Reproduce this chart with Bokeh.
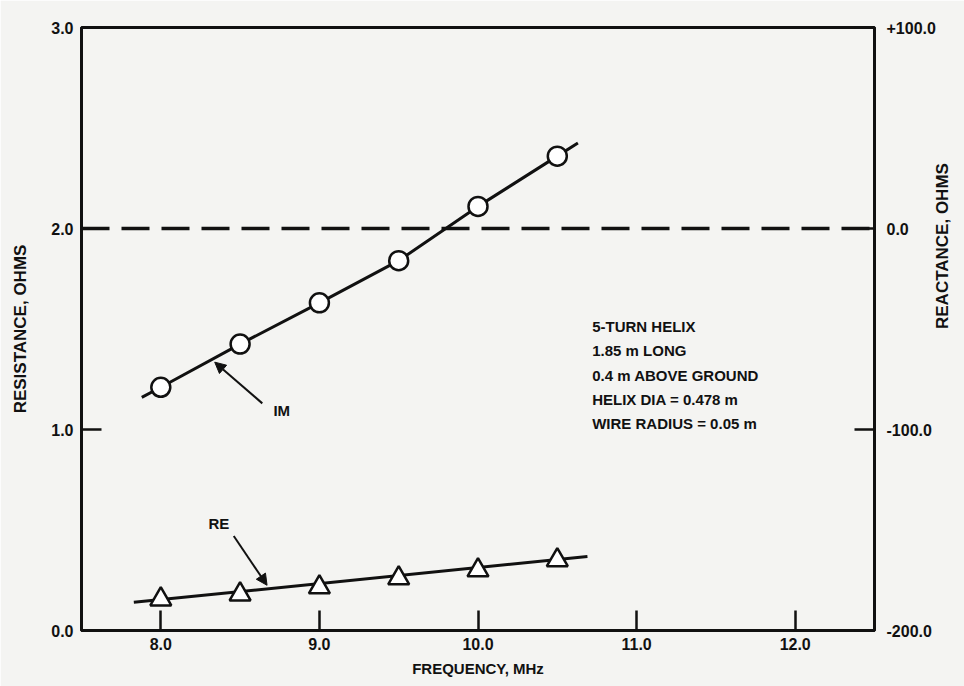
import math
from bokeh.plotting import figure
from bokeh.models import (Range1d, LinearAxis, FixedTicker, Span, Arrow,
                          NormalHead, Label)
from bokeh.embed import file_html
from bokeh.resources import INLINE

# ---------------- data ----------------
freq = [8.0, 8.5, 9.0, 9.5, 10.0, 10.5]                 # MHz
reactance_im = [-79.0, -57.5, -37.0, -16.0, 11.0, 36.0]  # ohms (right axis)
resistance_re = [0.155, 0.18, 0.215, 0.26, 0.30, 0.35]   # ohms (left axis)

# hand-drawn curves through the points (with their end extensions)
im_curve_freq = [7.88, 8.0, 8.5, 9.0, 9.5, 10.0, 10.5, 10.63]
im_curve_val = [-84.0, -79.0, -57.5, -37.0, -16.0, 11.0, 36.0, 42.5]
re_fit_freq = [7.83, 10.69]
re_fit_val = [0.14, 0.368]

zero_reactance = 0.0

x_ticks = [8, 9, 10, 11, 12]
x_tick_labels = ["8.0", "9.0", "10.0", "11.0", "12.0"]
left_ticks = [0, 1, 2, 3]
left_tick_labels = ["0.0", "1.0", "2.0", "3.0"]
right_ticks = [-200, -100, 0, 100]
right_tick_labels = ["-200.0", "-100.0", "0.0", "+100.0"]

info_lines = ["5-TURN HELIX", "1.85 m LONG", "0.4 m ABOVE GROUND",
              "HELIX DIA = 0.478 m", "WIRE RADIUS = 0.05 m"]

x_title = "FREQUENCY, MHz"
left_title = "RESISTANCE, OHMS"
right_title = "REACTANCE, OHMS"

# ---------------- styling ----------------
BG = "#f4f4f2"
INK = "#111111"
FONT = "Liberation Sans"

W, H = 964, 686
BL, BR, BT, BB = 81, 90, 27, 56

p = figure(width=W, height=H, output_backend="svg", toolbar_location=None,
           x_range=Range1d(7.5, 12.5), y_range=Range1d(0, 3.0),
           background_fill_color=BG, border_fill_color=BG,
           min_border_left=BL, min_border_right=BR,
           min_border_top=BT, min_border_bottom=BB)
p.extra_y_ranges = {"react": Range1d(-200, 100)}
p.grid.visible = False
p.outline_line_color = INK
p.outline_line_width = 3


def style_axis(ax, ticks, labels, standoff, title_standoff):
    ax.ticker = FixedTicker(ticks=ticks)
    ax.major_label_overrides = {t: l for t, l in zip(ticks, labels)}
    ax.minor_tick_line_color = None
    ax.major_tick_in = 20
    ax.major_tick_out = 0
    ax.major_tick_line_width = 2.5
    ax.major_tick_line_color = INK
    ax.axis_line_color = INK
    ax.axis_line_width = 3
    ax.major_label_text_font = FONT
    ax.major_label_text_font_style = "bold"
    ax.major_label_text_font_size = "16px"
    ax.major_label_text_color = INK
    ax.major_label_standoff = standoff
    ax.axis_label_text_font = FONT
    ax.axis_label_text_font_style = "bold"
    ax.axis_label_text_font_size = "17px"
    ax.axis_label_text_color = INK
    ax.axis_label_standoff = title_standoff


xa = p.xaxis[0]
xa.axis_label = x_title
style_axis(xa, x_ticks, x_tick_labels, 7, 7)
xa.axis_label_text_font_size = "15px"

ya = p.yaxis[0]
ya.axis_label = left_title
style_axis(ya, left_ticks, left_tick_labels, 8, 18)

ra = LinearAxis(y_range_name="react", axis_label=right_title)
style_axis(ra, right_ticks, right_tick_labels, 12, 4)
ra.axis_label_orientation = math.pi / 2   # read bottom-to-top like the left title
p.add_layout(ra, "right")

# zero reactance dashed line
p.add_layout(Span(location=zero_reactance, dimension="width", y_range_name="react",
                  line_color=INK, line_width=3.5, line_dash="28 12"))

# IM (reactance) curve
p.line(im_curve_freq, im_curve_val, y_range_name="react", line_color=INK,
       line_width=3, line_join="round")
p.scatter(freq, reactance_im, y_range_name="react", marker="circle", size=19,
          fill_color="white", line_color=INK, line_width=2.5)

# RE (resistance) curve
p.line(re_fit_freq, re_fit_val, line_color=INK, line_width=3)
p.scatter(freq, resistance_re, marker="triangle", size=21,
          fill_color="white", line_color=INK, line_width=2.5)

# annotations
p.add_layout(Arrow(end=NormalHead(size=11, fill_color=INK, line_color=INK),
                   x_start=8.64, y_start=-87.0, x_end=8.34, y_end=-66.5,
                   y_range_name="react", line_color=INK, line_width=2))
p.add_layout(Label(x=8.71, y=-90.5, y_range_name="react", text="IM",
                   text_font=FONT, text_font_style="bold", text_font_size="15px",
                   text_color=INK, text_baseline="middle"))

p.add_layout(Arrow(end=NormalHead(size=11, fill_color=INK, line_color=INK),
                   x_start=8.46, y_start=0.47, x_end=8.67, y_end=0.225,
                   line_color=INK, line_width=2))
p.add_layout(Label(x=8.30, y=0.533, text="RE",
                   text_font=FONT, text_font_style="bold", text_font_size="15px",
                   text_color=INK, text_baseline="middle"))

info_y = [1.513, 1.394, 1.270, 1.148, 1.030]
for line, yy in zip(info_lines, info_y):
    p.add_layout(Label(x=10.72, y=yy, text=line, text_font=FONT,
                       text_font_style="bold", text_font_size="15px",
                       text_color=INK, text_baseline="middle"))

open("out.html", "w").write(file_html(p, INLINE))
